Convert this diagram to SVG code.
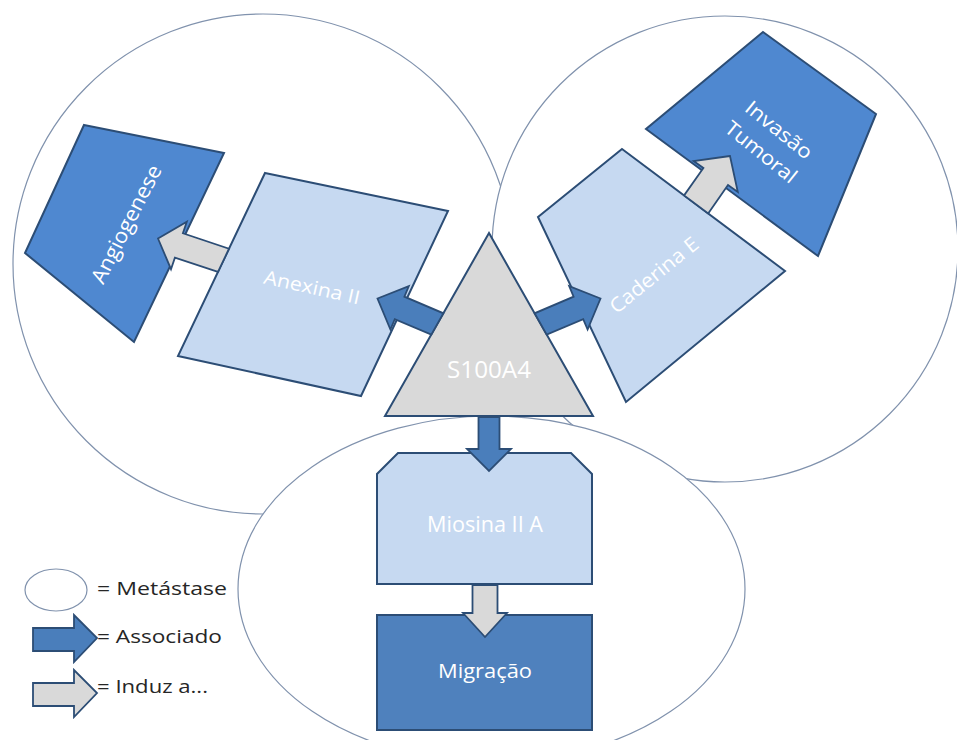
<svg xmlns="http://www.w3.org/2000/svg" width="957" height="740" viewBox="0 0 957 740">
  <style>
    .circ { fill: #FFFFFF; stroke: #8092AD; stroke-width: 1.2; }
    .legcirc { fill: none; stroke: #8092AD; stroke-width: 1.2; }
    .dark { fill: #4F88D0; stroke: #2C4D75; stroke-width: 2; stroke-linejoin: miter; }
    .dark2 { fill: #4F81BD; stroke: #2C4D75; stroke-width: 2; }
    .light { fill: #C6D9F1; stroke: #2C4D75; stroke-width: 2; stroke-linejoin: miter; }
    .gray { fill: #D9D9D9; stroke: #2C4D75; stroke-width: 2; stroke-linejoin: miter; }
    .assoc { fill: #4A7EBB; stroke: #2C4D75; stroke-width: 1.8; stroke-linejoin: miter; }
    .induz { fill: #D9D9D9; stroke: #2C4D75; stroke-width: 1.8; stroke-linejoin: miter; }
    .lbl { font-family: "Open Sans", "Liberation Sans", sans-serif; fill: #FFFFFF; text-anchor: middle; }
    .leg { font-family: "Open Sans", "Liberation Sans", sans-serif; fill: #262626; font-size: 19px; }
  </style>
  <rect width="957" height="740" fill="#FFFFFF"/>

  <g id="metastase-areas">
    <circle class="circ" cx="263" cy="264" r="250"/>
    <circle class="circ" cx="725" cy="249" r="233"/>
    <ellipse class="circ" cx="491.5" cy="589" rx="253.5" ry="173"/>
  </g>

  <g id="angiogenese">
    <polygon class="dark" points="84,125 224,153 134,342 25,253"/>
    <g transform="translate(126,224) rotate(-63)">
      <text class="lbl" x="0" y="7.5" font-size="21" textLength="130" lengthAdjust="spacingAndGlyphs">Angiogenese</text>
    </g>
  </g>

  <g id="invasao-tumoral">
    <polygon class="dark" points="763,32 876,114 818,256 646,129"/>
    <g transform="translate(770,141) rotate(39)">
      <text class="lbl" x="0" y="-7.3" font-size="20" textLength="80" lengthAdjust="spacingAndGlyphs">Invasão</text>
      <text class="lbl" x="0" y="21.2" font-size="20" textLength="86" lengthAdjust="spacingAndGlyphs">Tumoral</text>
    </g>
  </g>

  <g id="anexina-ii">
    <polygon class="light" points="265,173 448,211 361,396 178,356"/>
    <g transform="translate(312,287) rotate(12.5)">
      <text class="lbl" x="0" y="7" font-size="19" textLength="98" lengthAdjust="spacingAndGlyphs">Anexina II</text>
    </g>
  </g>

  <g id="caderina-e">
    <polygon class="light" points="622,149 785,271 626,402 538,217"/>
    <g transform="translate(654,275) rotate(-39)">
      <text class="lbl" x="0" y="7" font-size="20" textLength="108" lengthAdjust="spacingAndGlyphs">Caderina E</text>
    </g>
  </g>

  <g id="miosina-ii-a">
    <polygon class="light" points="398,453 571,453 592,474 592,584 377,584 377,474"/>
    <text class="lbl" x="485" y="532" font-size="21" textLength="116" lengthAdjust="spacingAndGlyphs">Miosina II A</text>
  </g>

  <g id="migracao">
    <rect class="dark2" x="377" y="615" width="215" height="115"/>
    <text class="lbl" x="485" y="678" font-size="20" textLength="94" lengthAdjust="spacingAndGlyphs">Migração</text>
  </g>

  <g id="s100a4">
    <polygon class="gray" points="489,233 593,416 385,416"/>
    <text class="lbl" x="489" y="378" font-size="24" fill="#F2F2F2" textLength="84" lengthAdjust="spacingAndGlyphs">S100A4</text>
  </g>

  <g id="connectors">
    <polygon class="induz" points="158,238.5 186.8,221.7 182.9,233.3 229,248.7 218,271.9 174.9,257.6 171,269.2"/>
    <polygon class="assoc" points="377.5,298.5 408.8,286.2 404.4,296.7 443.4,313.3 431.3,334.6 394.8,319.1 390.4,329.5"/>
    <polygon class="assoc" points="600.5,298.5 569.2,286.2 573.6,296.7 534.6,313.3 546.7,334.6 583.2,319.1 587.6,329.5"/>
    <polygon class="induz" points="730,156 693.6,161 703.4,167.9 684.1,195.4 708.2,213.4 728,185.1 737.8,192"/>
    <polygon class="assoc" points="478.5,417 499.5,417 499.5,449 511,449 489,471 467,449 478.5,449"/>
    <polygon class="induz" points="472.5,585 497.5,585 497.5,613 507,613 485,637 463,613 472.5,613"/>
  </g>

  <g id="legend">
    <ellipse class="legcirc" cx="56" cy="590" rx="31" ry="21"/>
    <text class="leg" x="97" y="595" textLength="130" lengthAdjust="spacingAndGlyphs">= Metástase</text>
    <polygon class="assoc" points="33,628 74,628 74,615 97,638 74,662 74,651 33,651"/>
    <text class="leg" x="97" y="643" textLength="125" lengthAdjust="spacingAndGlyphs">= Associado</text>
    <polygon class="induz" points="33,683 74,683 74,670 97,693 74,717 74,706 33,706"/>
    <text class="leg" x="97" y="693" textLength="111" lengthAdjust="spacingAndGlyphs">= Induz a...</text>
  </g>
</svg>
